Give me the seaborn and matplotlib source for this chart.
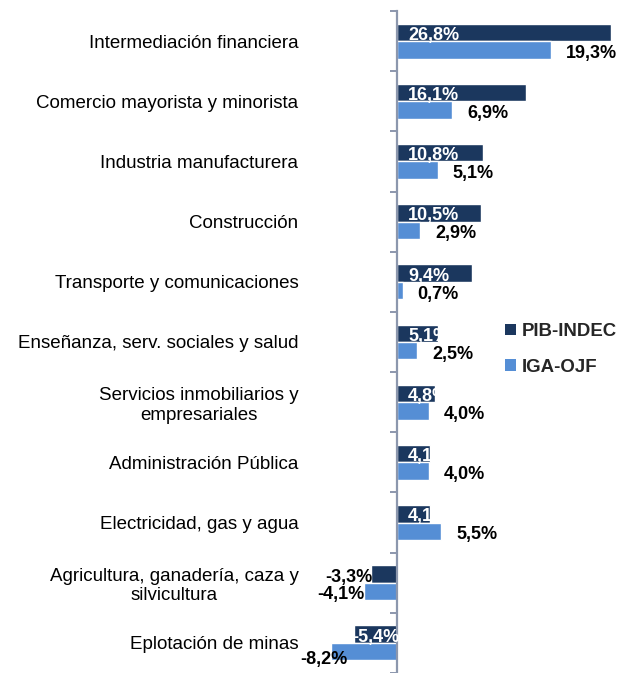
import matplotlib
matplotlib.use("Agg")
import matplotlib.pyplot as plt
import seaborn as sns
import pandas as pd
from matplotlib.patches import Patch

categories = [
    "Intermediación financiera",
    "Comercio mayorista y minorista",
    "Industria manufacturera",
    "Construcción",
    "Transporte y comunicaciones",
    "Enseñanza, serv. sociales y salud",
    "Servicios inmobiliarios y\nempresariales",
    "Administración Pública",
    "Electricidad, gas y agua",
    "Agricultura, ganadería, caza y\nsilvicultura",
    "Eplotación de minas",
]
pib_indec = [26.8, 16.1, 10.8, 10.5, 9.4, 5.1, 4.8, 4.1, 4.1, -3.3, -5.4]
iga_ojf = [19.3, 6.9, 5.1, 2.9, 0.7, 2.5, 4.0, 4.0, 5.5, -4.1, -8.2]
series = ["PIB-INDEC", "IGA-OJF"]
colors = ["#1B375E", "#558ED5"]

df = pd.DataFrame({
    "cat": categories * 2,
    "val": pib_indec + iga_ojf,
    "serie": [series[0]] * len(categories) + [series[1]] * len(categories),
})

sns.set_theme(style="white")
plt.rcParams["font.family"] = ["Liberation Sans", "DejaVu Sans"]

W, H = 632, 673
fig = plt.figure(figsize=(W / 100, H / 100), dpi=100)
xmin, xmax = -12.0, 28.0
ppu = 7.99
left_px = 397 - (0 - xmin) * ppu
ax = fig.add_axes([left_px / W, 0.0, (xmax - xmin) * ppu / W, 662 / H])

sns.barplot(data=df, y="cat", x="val", hue="serie", order=categories,
            hue_order=series, palette=colors, orient="h", width=0.58,
            saturation=1, ax=ax, legend=False, errorbar=None)

ax.set_xlim(xmin, xmax)
ax.set_ylim(-0.5 + 662 / 60.67, -0.5)
for s in ["top", "right", "bottom"]:
    ax.spines[s].set_visible(False)
ax.spines["left"].set_position(("data", 0))
ax.spines["left"].set_color("#8C97AD")
ax.spines["left"].set_linewidth(1.6)
ax.set_xticks([])
ax.set_xlabel("")
ax.set_ylabel("")

# category labels at centers, boundary ticks as minor
ax.set_yticks(range(len(categories)))
ax.set_yticklabels(categories, fontsize=13.5, color="#000000")
for t in ax.get_yticklabels():
    t.set_multialignment("center")
ax.tick_params(axis="y", which="major", length=0, pad=71)
ax.set_yticks([i - 0.5 for i in range(len(categories) + 1)], minor=True)
ax.tick_params(axis="y", which="minor", left=True, length=5, width=1.4,
               color="#8C97AD")

px = 0.72  # points per pixel
fs = 13.0
pib_bars = ax.containers[0]
iga_bars = ax.containers[1]
for bar, v in zip(pib_bars, pib_indec):
    yc = bar.get_y() + bar.get_height() / 2
    txt = f"{v:.1f}%".replace(".", ",")
    if v >= 0:
        ax.annotate(txt, (0, yc), xytext=(11 * px, -3 * px), textcoords="offset points",
                    ha="left", va="center", color="white", fontsize=fs,
                    fontweight="bold", annotation_clip=False)
    elif v < -4:
        ax.annotate(txt, (v, yc), xytext=(-2 * px, -3 * px), textcoords="offset points",
                    ha="left", va="center", color="white", fontsize=fs,
                    fontweight="bold", annotation_clip=False)
    else:
        ax.annotate(txt, (v, yc), xytext=(2 * px, -3 * px), textcoords="offset points",
                    ha="right", va="center", color="black", fontsize=fs,
                    fontweight="bold", annotation_clip=False)

for bar, v in zip(iga_bars, iga_ojf):
    yc = bar.get_y() + bar.get_height() / 2
    txt = f"{v:.1f}%".replace(".", ",")
    if v >= 0:
        ax.annotate(txt, (v, yc), xytext=(15 * px, -3.5 * px), textcoords="offset points",
                    ha="left", va="center", color="black", fontsize=fs,
                    fontweight="bold", annotation_clip=False)
    elif v < -6:
        ax.annotate(txt, (v, yc), xytext=(16 * px, -8 * px), textcoords="offset points",
                    ha="right", va="center", color="black", fontsize=fs,
                    fontweight="bold", annotation_clip=False)
    else:
        ax.annotate(txt, (v, yc), xytext=(0, -3 * px), textcoords="offset points",
                    ha="right", va="center", color="black", fontsize=fs,
                    fontweight="bold", annotation_clip=False)

handles = [Patch(facecolor=c, edgecolor="none") for c in colors]
leg = fig.legend(handles, series, loc="upper left",
                 bbox_to_anchor=(505 / W, 1 - 323 / H), frameon=False,
                 prop={"weight": "bold", "size": 13.4}, handlelength=0.6,
                 handleheight=0.6, handletextpad=0.3, labelspacing=1.0,
                 borderpad=0, borderaxespad=0)

fig.savefig("out.png", dpi=100)
